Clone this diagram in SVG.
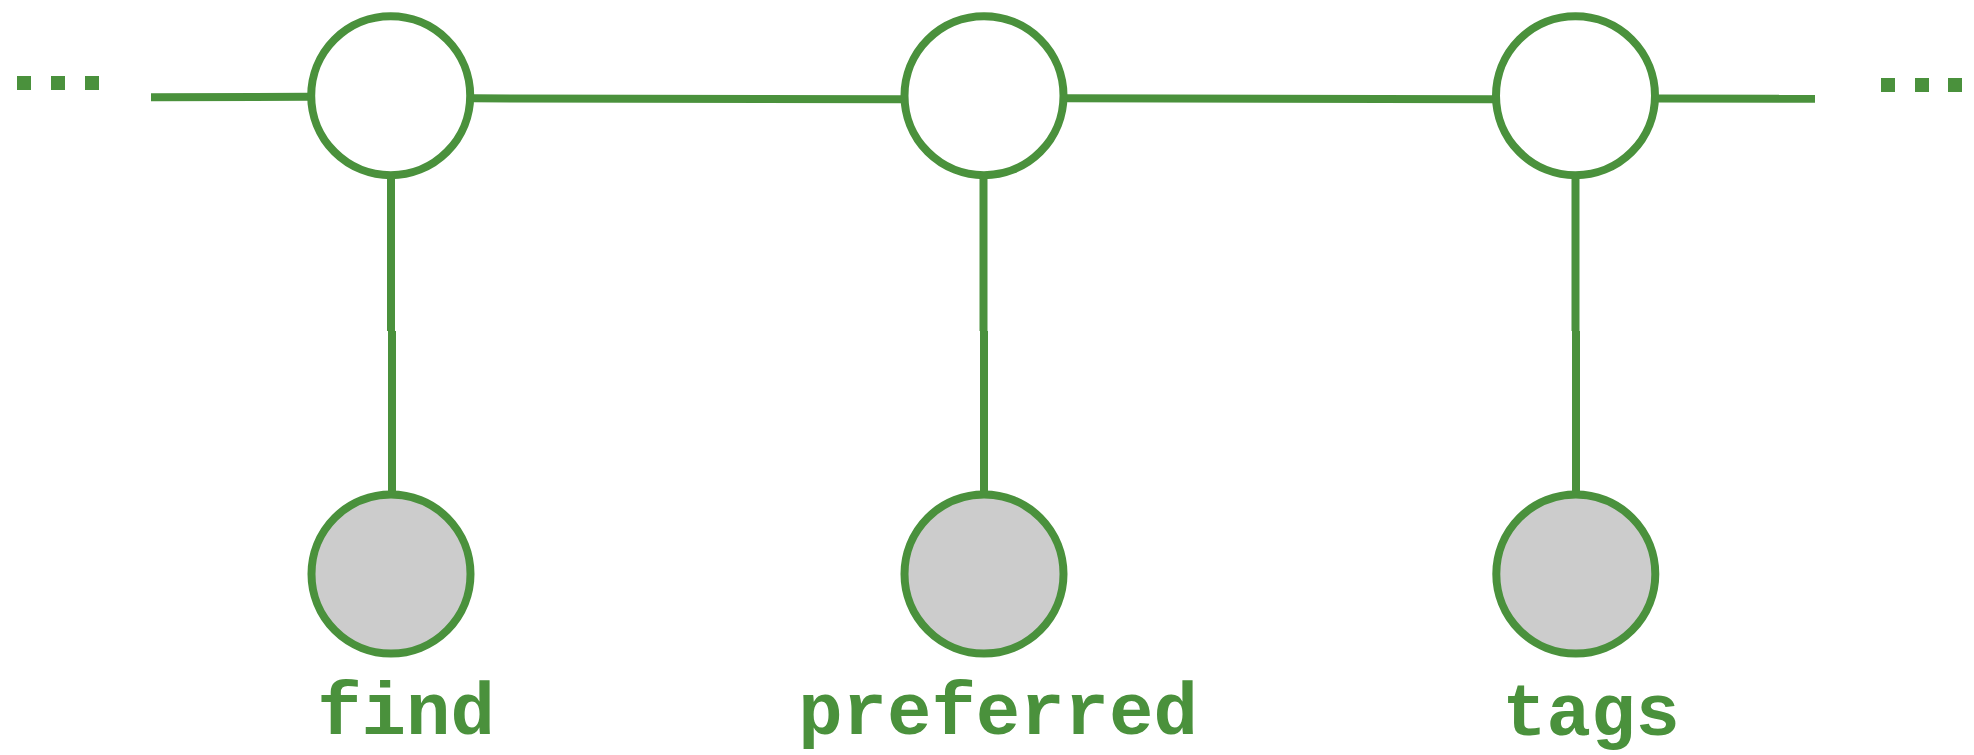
<svg xmlns="http://www.w3.org/2000/svg" width="1974" height="755" viewBox="0 0 1974 755">
<style>
.ln{stroke:#4a913c;stroke-width:8;fill:none}
.top{fill:#ffffff;stroke:#4a913c;stroke-width:8}
.obs{fill:#cccccc;stroke:#4a913c;stroke-width:8}
.dot{fill:#4a913c}
.lbl{font-family:"Liberation Mono","Courier New",monospace;font-weight:bold;font-size:74px;fill:#4a913c;text-anchor:middle}
</style>
<rect width="1974" height="755" fill="#ffffff"/>
<g id="connectors">
<line class="ln" x1="151" y1="97.3" x2="308" y2="96.7"/>
<line class="ln" x1="473" y1="98.3" x2="901" y2="99.3"/>
<line class="ln" x1="1066" y1="98.3" x2="1493" y2="99.3"/>
<line class="ln" x1="1658" y1="98.5" x2="1815" y2="98.8"/>
<line class="ln" x1="391" y1="171" x2="391" y2="331"/>
<line class="ln" x1="392" y1="331" x2="392" y2="492"/>
<line class="ln" x1="983.5" y1="171" x2="983.5" y2="331"/>
<line class="ln" x1="984" y1="331" x2="984" y2="492"/>
<line class="ln" x1="1575.5" y1="171" x2="1575.5" y2="331"/>
<line class="ln" x1="1576" y1="331" x2="1576" y2="492"/>
</g>
<g id="ellipsis-left">
<rect class="dot" x="17" y="76" width="14" height="14"/>
<rect class="dot" x="51" y="76" width="14" height="14"/>
<rect class="dot" x="85" y="76" width="14" height="14"/>
</g>
<g id="ellipsis-right">
<rect class="dot" x="1881" y="78" width="14" height="14"/>
<rect class="dot" x="1915" y="78" width="14" height="14"/>
<rect class="dot" x="1948" y="78" width="14" height="14"/>
</g>
<g id="state1"><circle class="top" cx="390.7" cy="95.7" r="79.5"/></g>
<g id="state2"><circle class="top" cx="984" cy="95.7" r="79.5"/></g>
<g id="state3"><circle class="top" cx="1575.5" cy="95.7" r="79.5"/></g>
<g id="obs-find">
<circle class="obs" cx="391" cy="574" r="79.5"/>
<text class="lbl" x="406" y="734">find</text>
</g>
<g id="obs-preferred">
<circle class="obs" cx="984" cy="574" r="79.5"/>
<text class="lbl" x="998" y="734">preferred</text>
</g>
<g id="obs-tags">
<circle class="obs" cx="1575.8" cy="574" r="79.5"/>
<text class="lbl" x="1591" y="735">tags</text>
</g>
</svg>
